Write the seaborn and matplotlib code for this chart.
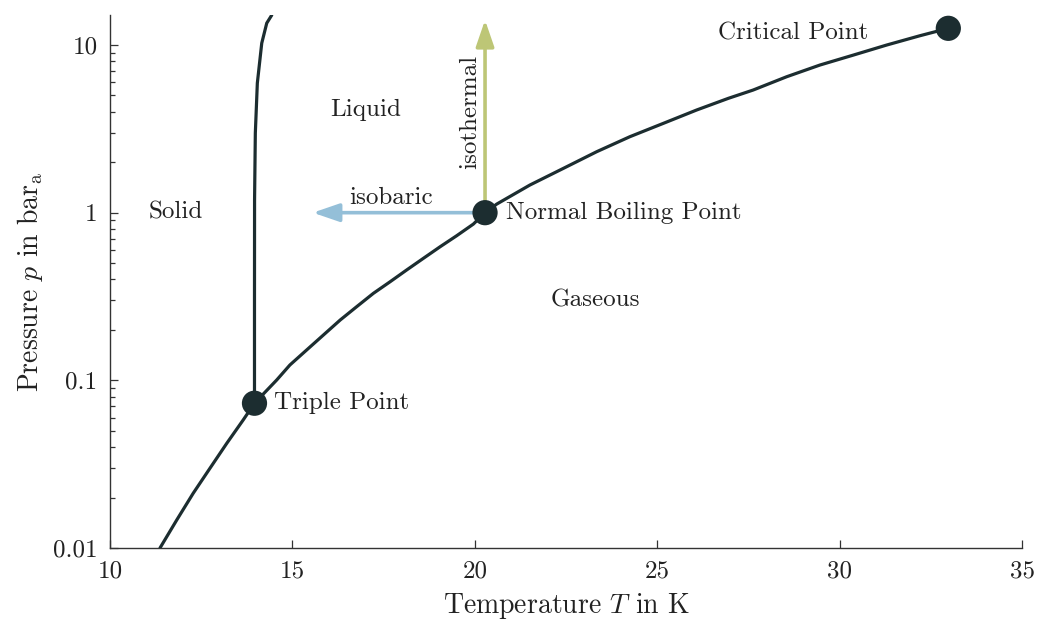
import numpy as np
import pandas as pd
import seaborn as sns
import matplotlib.pyplot as plt
from matplotlib.ticker import FixedLocator, FixedFormatter, LogLocator, NullFormatter

# --- DATA ---
# vapour pressure curve up to the critical point, T in K, p in bar
vap_T = [11.37, 11.83, 12.28, 12.74, 13.20, 13.65, 13.96, 14.57, 14.93, 15.39,
         15.85, 16.31, 16.76, 17.22, 17.68, 18.13, 18.59, 19.05, 19.50, 19.96,
         20.28, 20.60, 21.51, 22.43, 23.34, 24.25, 25.17, 26.08, 26.95, 27.63,
         28.55, 29.46, 30.38, 31.29, 32.20, 32.98]
vap_p = [0.0100, 0.0147, 0.0212, 0.0299, 0.0421, 0.0580, 0.0730, 0.1005, 0.1234, 0.1517,
         0.1864, 0.2290, 0.2748, 0.3304, 0.3876, 0.4550, 0.5342, 0.6266, 0.728, 0.855,
         1.000, 1.125, 1.462, 1.839, 2.310, 2.839, 3.412, 4.096, 4.809, 5.390,
         6.471, 7.597, 8.715, 10.00, 11.36, 12.58]

# melting curve, starting at the triple point
melt_T = [13.96, 13.96, 13.962, 13.983, 14.038, 14.159, 14.296, 14.433]
melt_p = [0.0730, 0.301, 1.189, 2.983, 5.928, 10.26, 13.51, 15.08]

# special points
pt_names = ['Triple Point', 'Normal Boiling Point', 'Critical Point']
pt_T = [13.96, 20.28, 32.98]
pt_p = [0.0730, 1.0, 12.58]

# arrow ends (both start at the normal boiling point)
isothermal_end = (20.28, 14.1)
isobaric_end = (15.56, 1.0)

# region labels
region_names = ['Solid', 'Liquid', 'Gaseous']
region_T = [11.8, 17.0, 23.3]
region_p = [1.0, 4.1, 0.30]

x_ticks = [10, 15, 20, 25, 30, 35]
y_ticks = [0.01, 0.1, 1, 10]
y_tick_labels = ['0.01', '0.1', '1', '10']

vap = pd.DataFrame({'T': vap_T, 'p': vap_p})
melt = pd.DataFrame({'T': melt_T, 'p': melt_p})
pts = pd.DataFrame({'name': pt_names, 'T': pt_T, 'p': pt_p})

dark = '#1c2d30'
green = '#bdc676'
blue = '#94bfd8'

# --- PLOT ---
sns.set_theme(style='white')
plt.rcParams['font.family'] = 'serif'
plt.rcParams['font.serif'] = ['cmr10']
plt.rcParams['mathtext.fontset'] = 'cm'
plt.rcParams['axes.formatter.use_mathtext'] = True

fig = plt.figure(figsize=(10.4, 6.21), dpi=100)
ax = fig.add_axes([0.1058, 0.1176, 0.8769, 0.8582])

sns.lineplot(data=vap, x='T', y='p', sort=False, estimator=None, color=dark, lw=2.3,
             ax=ax, zorder=3)
sns.lineplot(data=melt, x='T', y='p', sort=False, estimator=None, color=dark, lw=2.3,
             ax=ax, zorder=3)

nbp = (pt_T[1], pt_p[1])
ax.annotate('', xy=isothermal_end, xytext=nbp,
            arrowprops=dict(arrowstyle='-|>,head_length=1.6,head_width=0.55', color=green,
                            lw=2.6, shrinkA=0, shrinkB=0, mutation_scale=10), zorder=4)
ax.annotate('', xy=isobaric_end, xytext=nbp,
            arrowprops=dict(arrowstyle='-|>,head_length=1.6,head_width=0.55', color=blue,
                            lw=2.6, shrinkA=0, shrinkB=0, mutation_scale=10), zorder=4)

sns.scatterplot(data=pts, x='T', y='p', s=330, color=dark, edgecolor='none', ax=ax, zorder=5)

fs = 18
offsets = [(14, 0, 'left'), (15, 0, 'left'), (-58, -3.6, 'right')]
for name, T, p, (dx, dy, ha) in zip(pt_names, pt_T, pt_p, offsets):
    ax.annotate(name, xy=(T, p), xytext=(dx, dy), textcoords='offset points',
                ha=ha, va='center', fontsize=fs, color='#222222')

for name, T, p in zip(region_names, region_T, region_p):
    ax.text(T, p, name, ha='center', va='center', fontsize=fs, color='#222222')

ax.text(17.7, 1.22, 'isobaric', ha='center', va='center', fontsize=fs, color='#222222')
ax.text(19.87, 4.0, 'isothermal', ha='center', va='center', rotation=90,
        fontsize=fs, color='#222222')

ax.set_yscale('log')
ax.set_xlim(10, 35)
ax.set_ylim(0.01, 15.1)
ax.xaxis.set_major_locator(FixedLocator(x_ticks))
ax.xaxis.set_major_formatter(FixedFormatter([str(t) for t in x_ticks]))
ax.yaxis.set_major_locator(FixedLocator(y_ticks))
ax.yaxis.set_major_formatter(FixedFormatter(y_tick_labels))
ax.yaxis.set_minor_locator(LogLocator(base=10, subs=np.arange(2, 10)))
ax.yaxis.set_minor_formatter(NullFormatter())

ax.tick_params(which='both', left=True, bottom=True)
ax.tick_params(which='major', direction='in', length=6, width=0.9, colors='#333333',
               labelsize=fs, labelcolor='#222222', pad=9)
ax.tick_params(which='minor', direction='in', length=3.5, width=0.9, colors='#333333')
ax.tick_params(axis='x', which='minor', bottom=False)

for side in ['top', 'right']:
    ax.spines[side].set_visible(False)
for side in ['left', 'bottom']:
    ax.spines[side].set_color('#333333')
    ax.spines[side].set_linewidth(1.0)

ax.set_xlabel('Temperature $T$ in K', fontsize=20, color='#222222', labelpad=6)
ax.set_ylabel(r'Pressure $p$ in bar$_\mathrm{a}$', fontsize=20, color='#222222', labelpad=6)

plt.savefig('out.png', dpi=100)
